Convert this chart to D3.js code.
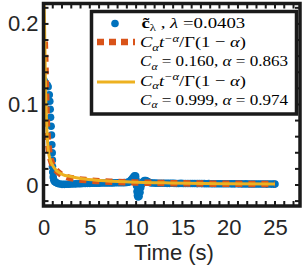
<!DOCTYPE html>
<html>
<head>
<script src="https://cdn.jsdelivr.net/npm/d3@7"></script>
<style>body{margin:0;background:#fff}</style>
</head>
<body>
<svg width="305" height="268"></svg>
<script>
// values
const xTicks = [0, 5, 10, 15, 20, 25];
const yTicks = [0, 0.1, 0.2];
const yTickLabels = ["0", "0.1", "0.2"];

const blueTime = [0, 0.05, 0.2, 0.4, 0.5, 0.62, 0.68, 0.72, 0.76, 0.82, 0.86, 0.9, 0.94, 0.96, 0.97, 1.0, 1.05, 1.12, 1.22, 1.35,
  1.5, 1.75, 2.0, 2.25, 2.5, 2.75, 3.0, 3.25, 3.5, 3.75, 4.0, 4.25, 4.5, 4.75, 5.0, 5.25, 5.5, 5.75, 6.0, 6.25, 6.5, 6.75,
  7.0, 7.25, 7.5, 7.75, 8.0, 8.25, 8.5, 8.75, 9.0, 9.15,
  9.3, 9.45, 9.6, 9.72, 9.84, 9.95, 10.0, 10.05, 10.1, 10.15, 10.22, 10.32, 10.42, 10.5, 10.6, 10.75, 10.9, 11.05, 11.2, 11.35,
  11.6, 11.85, 12.1, 12.35, 12.6, 12.85, 13.1, 13.35, 13.6, 13.85, 14.1, 14.35, 14.6, 14.85, 15.1, 15.35, 15.6, 15.85,
  16.1, 16.35, 16.6, 16.85, 17.1, 17.35, 17.6, 17.85, 18.1, 18.35, 18.6, 18.85, 19.1, 19.35, 19.6, 19.85, 20.1, 20.35,
  20.6, 20.85, 21.1, 21.35, 21.6, 21.85, 22.1, 22.35, 22.6, 22.85, 23.1, 23.35, 23.6, 23.85, 24.1, 24.35, 24.6, 24.85, 25.0];
const blueValue = [0.112, 0.130, 0.127, 0.124, 0.122, 0.112, 0.104, 0.094, 0.084, 0.073, 0.062, 0.050, 0.040, 0.031, 0.023, 0.016, 0.010, 0.006, 0.004, 0.003,
  0.0020, 0.0012, 0.0008, 0.0008, 0.0010, 0.0010, 0.0012, 0.0012, 0.0014, 0.0015, 0.0016, 0.0018, 0.0018, 0.0020, 0.0020, 0.0021, 0.0022, 0.0022, 0.0023, 0.0024, 0.0024, 0.0025,
  0.0025, 0.0026, 0.0026, 0.0027, 0.0027, 0.0028, 0.0028, 0.0029, 0.0030, 0.0035,
  0.0040, 0.0060, 0.0080, 0.0100, 0.0115, 0.0110, 0.0060, -0.0010, -0.0080, -0.0130, -0.0150, -0.0140, -0.0090, -0.0030, 0.0010, 0.0040, 0.0055, 0.0055, 0.0045, 0.0035,
  0.0026, 0.0024, 0.0023, 0.0022, 0.0022, 0.0021, 0.0021, 0.0020, 0.0020, 0.0021, 0.0020, 0.0019, 0.0019, 0.0020, 0.0019, 0.0018, 0.0018, 0.0019,
  0.0018, 0.0018, 0.0017, 0.0018, 0.0017, 0.0017, 0.0016, 0.0017, 0.0016, 0.0016, 0.0016, 0.0015, 0.0016, 0.0015, 0.0015, 0.0016, 0.0015, 0.0014,
  0.0014, 0.0015, 0.0014, 0.0014, 0.0013, 0.0014, 0.0013, 0.0013, 0.0013, 0.0012, 0.0013, 0.0012, 0.0012, 0.0012, 0.0011, 0.0012, 0.0011, 0.0011, 0.0011];

const fitATime = [0.14, 0.19, 0.25, 0.3, 0.35, 0.46, 0.62, 0.89, 1.32, 1.85, 2.5, 3.46, 4.86, 7.2, 10.4, 14.7, 20, 25];
const fitAValue = [0.178, 0.156, 0.131, 0.106, 0.081, 0.059, 0.041, 0.0275, 0.019, 0.0135, 0.0100, 0.0076, 0.0058, 0.0041, 0.0030, 0.0021, 0.0015, 0.0011];

const fitBTime = [0.05, 0.12, 0.17, 0.22, 0.3, 0.39, 0.51, 0.73, 1.0, 1.43, 2.07, 2.93, 4.2, 6.1, 9.35, 13.6, 19, 25];
const fitBValue = [0.235, 0.194, 0.156, 0.119, 0.0875, 0.0625, 0.044, 0.031, 0.024, 0.0175, 0.013, 0.0105, 0.0078, 0.0057, 0.0038, 0.0025, 0.0016, 0.0011];

const legendLines = [
  [{t: "c\u0303", b: 1}, {t: "λ", sub: 1}, {t: " , "}, {t: "λ", it: 1}, {t: " =0.0403"}],
  [{t: "C", it: 1}, {t: "α", it: 1, sub: 1}, {t: "t", it: 1}, {t: "−α", it: 1, sup: 1}, {t: "/Γ(1 − "}, {t: "α", it: 1}, {t: ")"}],
  [{t: "C", it: 1}, {t: "α", it: 1, sub: 1}, {t: " = 0.160, "}, {t: "α", it: 1}, {t: " = 0.863"}],
  [{t: "C", it: 1}, {t: "α", it: 1, sub: 1}, {t: "t", it: 1}, {t: "−α", it: 1, sup: 1}, {t: "/Γ(1 − "}, {t: "α", it: 1}, {t: ")"}],
  [{t: "C", it: 1}, {t: "α", it: 1, sub: 1}, {t: " = 0.999, "}, {t: "α", it: 1}, {t: " = 0.974"}]
];

const blue = "#0072BD", orange = "#D95319", yellow = "#EDB120", ink = "#262626";
const svg = d3.select("svg");
const x = d3.scaleLinear().domain([0, 27.7]).range([43.5, 300]);
const y = d3.scaleLinear().domain([-0.0261, 0.226]).range([206, 3]);

svg.append("clipPath").attr("id", "plotclip").append("rect")
  .attr("x", 43.5).attr("y", 3.5).attr("width", 256.5).attr("height", 202.5);
const plot = svg.append("g").attr("clip-path", "url(#plotclip)");

plot.selectAll("circle").data(blueTime).enter().append("circle")
  .attr("cx", d => x(d)).attr("cy", (d, i) => y(blueValue[i])).attr("r", 3.8).attr("fill", blue);

const line = d3.line().x(d => x(d[0])).y(d => y(d[1])).curve(d3.curveMonotoneX);
plot.append("path").datum(fitATime.map((t, i) => [t, fitAValue[i]])).attr("d", line)
  .attr("fill", "none").attr("stroke", orange).attr("stroke-width", 6.5).attr("stroke-dasharray", "7,6");
plot.append("path").datum(fitBTime.map((t, i) => [t, fitBValue[i]])).attr("d", line)
  .attr("fill", "none").attr("stroke", yellow).attr("stroke-width", 3);

// frame with inward minor ticks
const frame = svg.append("g").attr("stroke", "#1a1a1a");
frame.append("rect").attr("x", 43.5).attr("y", 3.5).attr("width", 256.5).attr("height", 202.5)
  .attr("fill", "none").attr("stroke-width", 3.5);
const xMinor = d3.range(0, 28, 1), yMinor = d3.range(-0.02, 0.23, 0.02);
frame.selectAll(".xb").data(xMinor).enter().append("line")
  .attr("x1", d => x(d)).attr("x2", d => x(d)).attr("y1", 206).attr("y2", 201).attr("stroke-width", 2);
frame.selectAll(".xt").data(xMinor).enter().append("line")
  .attr("x1", d => x(d)).attr("x2", d => x(d)).attr("y1", 3.5).attr("y2", 8.5).attr("stroke-width", 2);
frame.selectAll(".yl").data(yMinor).enter().append("line")
  .attr("y1", d => y(d)).attr("y2", d => y(d)).attr("x1", 43.5).attr("x2", 48.5).attr("stroke-width", 2);
frame.selectAll(".yr").data(yMinor).enter().append("line")
  .attr("y1", d => y(d)).attr("y2", d => y(d)).attr("x1", 300).attr("x2", 295).attr("stroke-width", 2);

const font = "'Liberation Sans', Arial, sans-serif";
const xAxis = svg.append("g").attr("transform", "translate(0,206)")
  .call(d3.axisBottom(x).tickValues(xTicks).tickSize(0).tickPadding(13.5));
const yAxis = svg.append("g").attr("transform", "translate(43.5,0)")
  .call(d3.axisLeft(y).tickValues(yTicks).tickFormat((d, i) => yTickLabels[i]).tickSize(0).tickPadding(5));
[xAxis, yAxis].forEach(a => {
  a.select(".domain").remove();
  a.selectAll("text").attr("font-family", font).attr("font-size", 22).attr("fill", ink);
});

svg.append("text").attr("x", 174).attr("y", 260).attr("text-anchor", "middle")
  .attr("font-family", font).attr("font-size", 22).attr("fill", ink).text("Time (s)");

// legend
const leg = svg.append("g");
leg.append("rect").attr("x", 91.5).attr("y", 11.5).attr("width", 205).attr("height", 102.5)
  .attr("fill", "#fff").attr("stroke", "#1a1a1a").attr("stroke-width", 3.5);
leg.append("circle").attr("cx", 115).attr("cy", 23.5).attr("r", 3.8).attr("fill", blue);
leg.append("line").attr("x1", 97).attr("x2", 135).attr("y1", 42).attr("y2", 42)
  .attr("stroke", orange).attr("stroke-width", 6.5).attr("stroke-dasharray", "7,5");
leg.append("line").attr("x1", 97).attr("x2", 135).attr("y1", 82).attr("y2", 82)
  .attr("stroke", yellow).attr("stroke-width", 3);

const baselines = [28, 47.5, 66.5, 86, 105];
const starts = [141.5, 140, 140, 140, 140];
const ends = [245.5, 246, 288.5, 246, 288.5];
legendLines.forEach((segs, i) => {
  const t = leg.append("text").attr("x", starts[i]).attr("y", baselines[i])
    .attr("font-family", "'Liberation Serif', 'Times New Roman', serif").attr("fill", "#000")
    .style("white-space", "pre");
  let cur = 0;
  segs.forEach(s => {
    const shift = s.sub ? 3.5 : s.sup ? -5.5 : 0;
    t.append("tspan").attr("dy", shift - cur)
      .attr("font-size", s.sub || s.sup ? 10.5 : 15.5)
      .attr("font-style", s.it ? "italic" : "normal")
      .attr("font-weight", s.b ? "bold" : "normal").text(s.t);
    cur = shift;
  });
  const w = t.node().getBBox().width;
  const k = (ends[i] - starts[i]) / w;
  t.attr("transform", `translate(${starts[i]},0) scale(${k},1) translate(${-starts[i]},0)`);
});
</script>
</body>
</html>
